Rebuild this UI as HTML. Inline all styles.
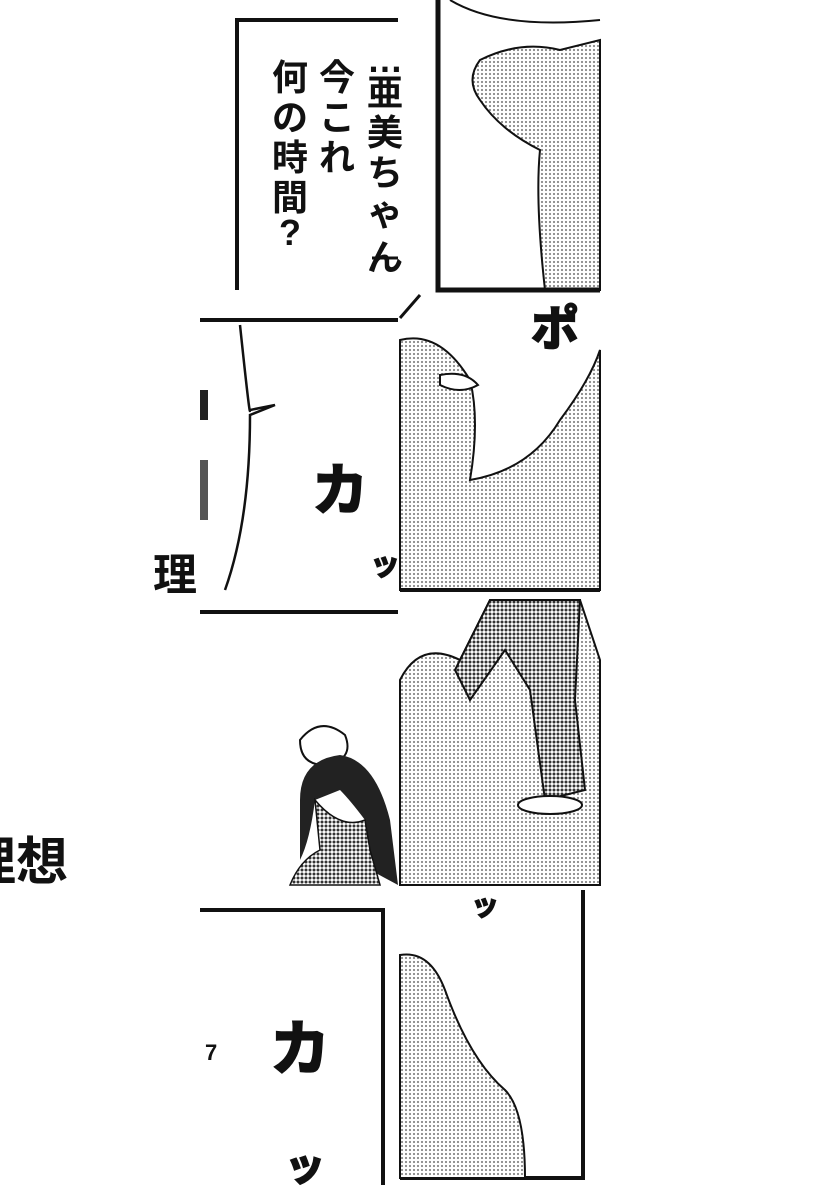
<!DOCTYPE html>
<html><head><meta charset="utf-8"><style>
body{margin:0;background:#fff;width:820px;height:1200px;overflow:hidden}
svg{display:block}
text{font-family:"Liberation Sans","Noto Sans CJK JP",sans-serif;font-weight:bold;fill:#111}
</style></head><body>
<svg width="820" height="1200" viewBox="0 0 820 1200">
<defs>
<pattern id="dots" width="4" height="4" patternUnits="userSpaceOnUse"><rect width="4" height="4" fill="#fff"/><circle cx="2" cy="2" r="1.1" fill="#888"/></pattern>
<pattern id="dk" width="4" height="4" patternUnits="userSpaceOnUse"><rect width="4" height="4" fill="#fff"/><circle cx="2" cy="2" r="1.5" fill="#333"/></pattern>
</defs>
<path d="M398 20 L237 20 L237 290" fill="none" stroke="#111" stroke-width="4"/>
<g font-size="36">
<text x="385" y="72" text-anchor="middle">…</text>
<text x="385" y="105" text-anchor="middle">亜</text>
<text x="385" y="145" text-anchor="middle">美</text>
<text x="385" y="185" text-anchor="middle">ち</text>
<text x="385" y="225" text-anchor="middle">ゃ</text>
<text x="385" y="270" text-anchor="middle">ん</text>
<text x="337" y="90" text-anchor="middle">今</text>
<text x="337" y="130" text-anchor="middle">こ</text>
<text x="337" y="170" text-anchor="middle">れ</text>
<text x="290" y="90" text-anchor="middle">何</text>
<text x="290" y="130" text-anchor="middle">の</text>
<text x="290" y="170" text-anchor="middle">時</text>
<text x="290" y="210" text-anchor="middle">間</text>
<text x="290" y="245" text-anchor="middle">?</text>
</g>
<line x1="372" y1="258" x2="398" y2="258" stroke="#111" stroke-width="3"/>
<path d="M480 60 Q520 40 560 50 L600 40 L600 290 L545 290 Q535 200 540 150 Q500 130 480 100 Q465 80 480 60Z" fill="url(#dots)" stroke="#111" stroke-width="2"/>
<path d="M438 0 L438 290 L600 290" fill="none" stroke="#111" stroke-width="5"/>
<path d="M450 0 Q500 30 600 20" fill="none" stroke="#111" stroke-width="2"/>
<path d="M200 320 L398 320" stroke="#111" stroke-width="4"/>
<path d="M420 295 L400 318" stroke="#111" stroke-width="3"/>
<path d="M240 325 Q250 420 250 410 L275 405 L250 415 Q250 520 225 590" fill="none" stroke="#111" stroke-width="2.5"/>
<text x="175" y="590" font-size="44" text-anchor="middle">理</text>
<rect x="200" y="390" width="8" height="30" fill="#222"/>
<rect x="200" y="460" width="8" height="60" fill="#555"/>
<path d="M400 340 Q440 330 470 380 Q480 420 470 480 Q530 470 560 420 Q590 380 600 350 L600 590 L400 590Z" fill="url(#dots)" stroke="#111" stroke-width="2"/>
<path d="M440 375 Q465 370 478 385 Q460 395 440 385Z" fill="#fff" stroke="#111" stroke-width="2"/>
<text x="340" y="510" font-size="56" text-anchor="middle" fill="#555" stroke="#111" stroke-width="2">カ</text>
<text x="385" y="575" font-size="30" text-anchor="middle" fill="#555" stroke="#111" stroke-width="1.5">ッ</text>
<text x="555" y="345" font-size="48" text-anchor="middle" fill="#555" stroke="#111" stroke-width="2">ポ</text>
<path d="M200 612 L398 612" stroke="#111" stroke-width="4"/>
<path d="M400 590 L600 590" stroke="#111" stroke-width="4"/>
<path d="M400 680 Q420 640 460 660 L490 600 L580 600 L600 660 L600 885 L400 885Z" fill="url(#dots)" stroke="#111" stroke-width="2"/>
<path d="M490 600 L580 600 L575 700 L585 790 L545 800 L530 690 L505 650 L470 700 L455 670 Z" fill="url(#dk)" stroke="#111" stroke-width="2"/>
<ellipse cx="550" cy="805" rx="32" ry="9" fill="#fff" stroke="#111" stroke-width="2"/>
<path d="M300 740 Q320 715 345 735 Q355 760 325 765 Q300 765 300 740Z" fill="#fff" stroke="#111" stroke-width="2"/>
<path d="M300 800 Q300 760 340 755 Q375 760 390 820 L398 885 L370 870 L365 820 Q350 800 340 790 L315 800 Q310 840 300 860Z" fill="#222"/>
<path d="M315 800 Q340 830 365 820 L370 850 L380 885 L290 885 Q300 860 320 850Z" fill="url(#dk)" stroke="#111" stroke-width="1.5"/>
<text x="-36" y="880" font-size="52">理想</text>
<path d="M200 910 L383 910 L383 1185" fill="none" stroke="#111" stroke-width="4"/>
<path d="M583 890 L583 1178 L400 1178" fill="none" stroke="#111" stroke-width="4"/>
<path d="M400 955 Q430 950 445 990 Q470 1060 505 1090 Q525 1110 525 1178 L400 1178Z" fill="url(#dots)" stroke="#111" stroke-width="2"/>
<text x="300" y="1070" font-size="60" text-anchor="middle" fill="#555" stroke="#111" stroke-width="2">カ</text>
<text x="305" y="1180" font-size="40" text-anchor="middle" fill="#555" stroke="#111" stroke-width="2">ッ</text>
<text x="485" y="915" font-size="28" text-anchor="middle" fill="#555" stroke="#111" stroke-width="1.5">ッ</text>
<text x="205" y="1060" font-size="22" font-weight="normal">7</text>
</svg>
</body></html>
